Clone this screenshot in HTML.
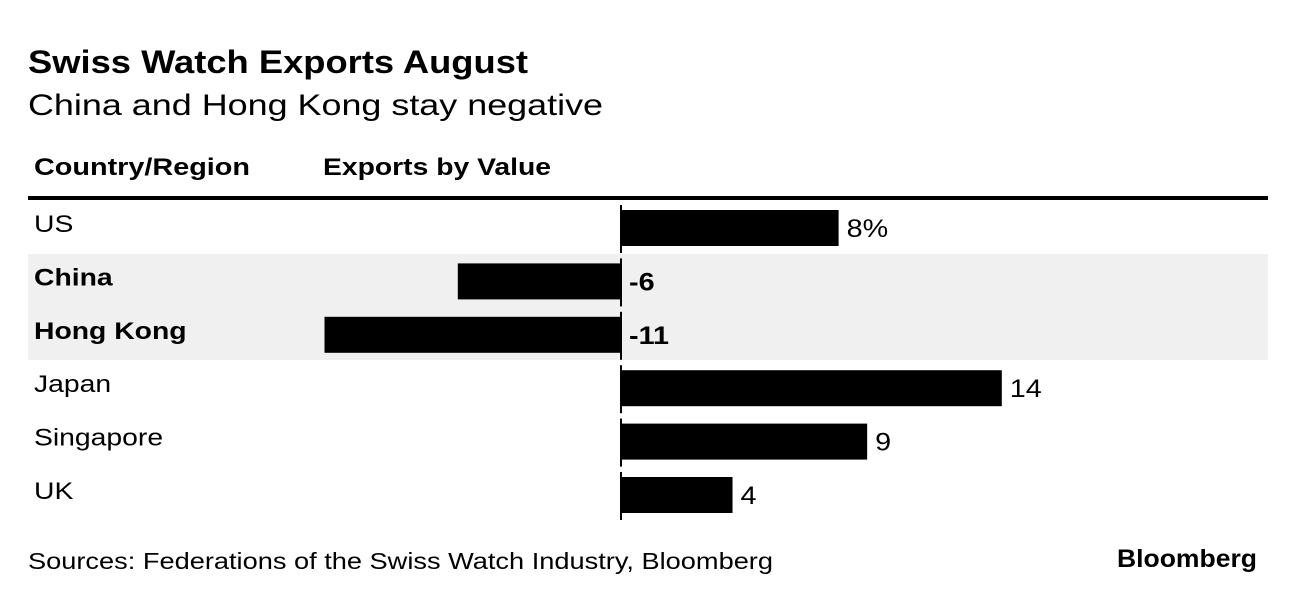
<!DOCTYPE html>
<html><head><meta charset="utf-8"><style>
body{margin:0;background:#fff;font-family:"Liberation Sans",sans-serif;}
svg text{font-family:"Liberation Sans",sans-serif;}
</style></head><body>
<svg id="chart" width="1296" height="602" xmlns="http://www.w3.org/2000/svg">
<text x="28" y="73" font-size="32" font-weight="bold" textLength="500" lengthAdjust="spacingAndGlyphs">Swiss Watch Exports August</text>
<text x="28" y="115" font-size="30" textLength="575" lengthAdjust="spacingAndGlyphs">China and Hong Kong stay negative</text>
<text x="34" y="175" font-size="24" font-weight="bold" textLength="216" lengthAdjust="spacingAndGlyphs">Country/Region</text>
<text x="323" y="175" font-size="24" font-weight="bold" textLength="228" lengthAdjust="spacingAndGlyphs">Exports by Value</text>
<rect x="28" y="254" width="1240" height="106" fill="#f0f0f0"/>
<rect x="28" y="196" width="1240" height="4" fill="#000"/>
<g id="rows"></g>
<text x="28" y="569" font-size="23" textLength="745" lengthAdjust="spacingAndGlyphs">Sources: Federations of the Swiss Watch Industry, Bloomberg</text>
<text x="1117" y="567" font-size="25" font-weight="bold" textLength="140" lengthAdjust="spacingAndGlyphs">Bloomberg</text>
</svg>
<script>
const categories=["US","China","Hong Kong","Japan","Singapore","UK"];
const values=[8.0,-6.0,-10.9,14.0,9.05,4.1];
const labels=["8%","-6","-11","14","9","4"];
const bold=[false,true,true,false,false,false];
const zeroX=621, scale=27.2, top0=210, pitch=53.4, barH=36;
const xPos=v=>zeroX+v*scale;
const g=document.getElementById('rows');
const NS="http://www.w3.org/2000/svg";
categories.forEach((c,i)=>{
  const y=top0+i*pitch;
  const v=values[i];
  const t=document.createElementNS(NS,'text');
  
  
  t.setAttribute('x',34);t.setAttribute('y',y+22);t.setAttribute('font-size',24);
  if(bold[i])t.setAttribute('font-weight','bold');
  t.textContent=c;g.appendChild(t);
  t.setAttribute('textLength',t.getComputedTextLength()*1.18);
  t.setAttribute('lengthAdjust','spacingAndGlyphs');
  const r=document.createElementNS(NS,'rect');
  
  
  const x1=Math.min(xPos(0),xPos(v)),x2=Math.max(xPos(0),xPos(v));
  r.setAttribute('x',x1);r.setAttribute('y',y);r.setAttribute('width',x2-x1);r.setAttribute('height',barH);
  r.setAttribute('fill','#000');g.appendChild(r);
  const a=document.createElementNS(NS,'rect');
  
  
  a.setAttribute('x',zeroX-1);a.setAttribute('y',y-5);a.setAttribute('width',2);a.setAttribute('height',barH+12);
  a.setAttribute('fill','#000');g.appendChild(a);
  const l=document.createElementNS(NS,'text');
  
  
  const lx=v>=0?xPos(v)+8:zeroX+8;
  l.setAttribute('x',lx);l.setAttribute('y',y+27);l.setAttribute('font-size',25);
  if(bold[i])l.setAttribute('font-weight','bold');
  l.textContent=labels[i];g.appendChild(l);
  l.setAttribute('textLength',l.getComputedTextLength()*1.15);
  l.setAttribute('lengthAdjust','spacingAndGlyphs');
});
</script>
</body></html>
